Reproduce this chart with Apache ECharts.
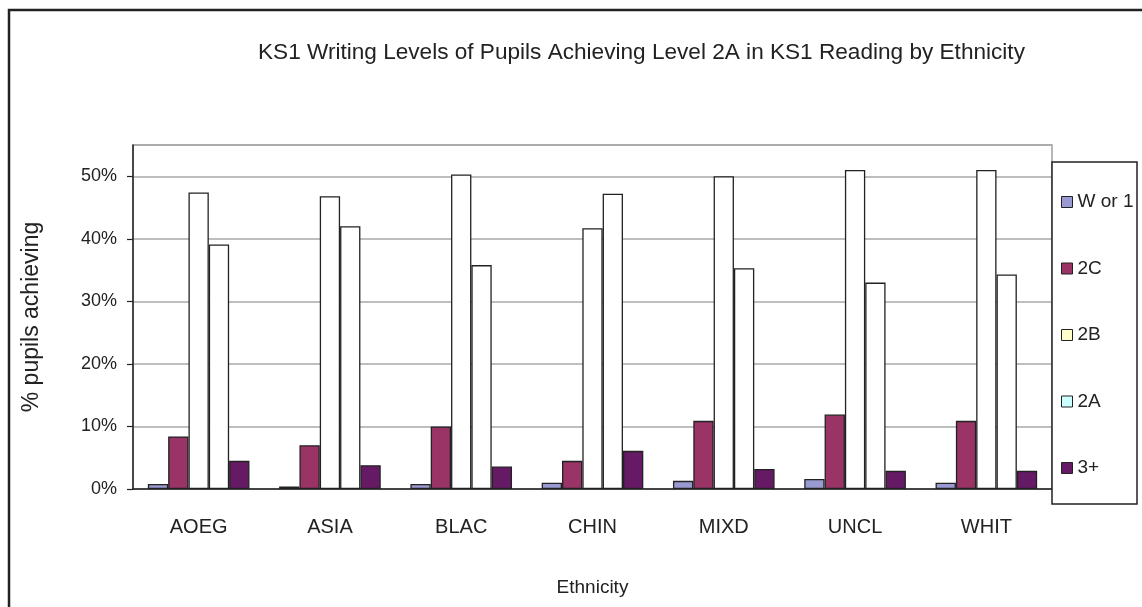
<!DOCTYPE html>
<html>
<head>
<meta charset="utf-8">
<script src="https://cdn.jsdelivr.net/npm/echarts@6/dist/echarts.min.js"></script>
<style>
  html, body { margin: 0; padding: 0; background: #fff; }
  #chart { width: 1142px; height: 607px; }
</style>
</head>
<body>
<div id="chart"></div>
<script>
// data (percent of pupils)
const ethnicities = ['AOEG', 'ASIA', 'BLAC', 'CHIN', 'MIXD', 'UNCL', 'WHIT']
const levels = ['W or 1', '2C', '2B', '2A', '3+']
const wOr1 = [0.8, 0.4, 0.8, 1.0, 1.3, 1.6, 1.0]
const l2C = [8.4, 7.0, 10.0, 4.5, 10.9, 11.9, 10.9]
const l2B = [47.4, 46.8, 50.3, 41.7, 50.0, 51.0, 51.0]
const l2A = [39.1, 42.0, 35.8, 47.2, 35.3, 33.0, 34.3]
const l3plus = [4.5, 3.8, 3.6, 6.1, 3.2, 2.9, 2.9]
const yTicks = [0, 10, 20, 30, 40, 50]

const seriesValues = [wOr1, l2C, l2B, l2A, l3plus]
const barColors = ['#9a9ad2', '#9a3366', '#ffffff', '#ffffff', '#661a66']
const legendColors = ['#9a9ad2', '#9a3366', '#ffffcc', '#ccffff', '#661a66']

const font = '"Liberation Sans", Arial, sans-serif'

const chart = echarts.init(document.getElementById('chart'))

chart.setOption({
    animation: false,
    backgroundColor: '#fff',
    title: {
        text: 'KS1 Writing Levels of Pupils Achieving Level 2A in KS1 Reading by Ethnicity',
        left: 253,
        top: 36,
        textStyle: { fontFamily: font, fontSize: 22.6, fontWeight: 'normal', color: '#222' }
    },
    graphic: [
        {
            type: 'rect', z: -10, silent: true,
            shape: { x: 9, y: 10, width: 1300, height: 800 },
            style: { fill: 'none', stroke: '#222', lineWidth: 2.5 }
        },
        {
            type: 'rect', z: 1, silent: true,
            shape: { x: 1052, y: 162, width: 85, height: 342 },
            style: { fill: '#fff', stroke: '#222', lineWidth: 1.5 }
        }
    ],
    legend: {
        orient: 'vertical',
        left: 1061,
        top: 190,
        padding: 0,
        itemWidth: 11,
        itemHeight: 11,
        itemGap: 42.5,
        z: 5,
        textStyle: { fontFamily: font, fontSize: 19, lineHeight: 24, color: '#222' },
        data: levels.map((name, i) => ({
            name: name,
            icon: 'rect',
            itemStyle: { color: legendColors[i], borderColor: '#222', borderWidth: 1 }
        }))
    },
    grid: {
        left: 133,
        top: 145,
        right: 90,
        bottom: 118,
        show: true,
        borderColor: '#a0a0a0',
        borderWidth: 1.5
    },
    xAxis: {
        type: 'category',
        data: ethnicities,
        name: 'Ethnicity',
        nameLocation: 'middle',
        nameGap: 89,
        nameTextStyle: { fontFamily: font, fontSize: 19, color: '#222' },
        axisLine: { lineStyle: { color: '#222', width: 1.5 } },
        axisTick: { length: 7, lineStyle: { color: '#222', width: 1.2 } },
        axisLabel: { fontFamily: font, fontSize: 20, color: '#222', margin: 28 }
    },
    yAxis: {
        type: 'value',
        min: 0,
        max: 55,
        interval: 10,
        name: '% pupils achieving',
        nameLocation: 'middle',
        nameGap: 90,
        nameTextStyle: { fontFamily: font, fontSize: 23, color: '#222' },
        axisLine: { show: true, lineStyle: { color: '#222', width: 1.5 } },
        axisTick: { show: true, length: 6, lineStyle: { color: '#222', width: 1.2 } },
        axisLabel: {
            fontFamily: font, fontSize: 18, color: '#222', margin: 16,
            showMaxLabel: false,
            formatter: v => (yTicks.includes(v) ? v + '%' : '')
        },
        splitLine: { lineStyle: { color: '#a8a8a8', width: 1.5 } }
    },
    series: levels.map((name, i) => ({
        name: name,
        type: 'bar',
        data: seriesValues[i],
        barGap: '0%',
        barCategoryGap: '22.6%',
        itemStyle: { color: barColors[i], borderColor: '#222', borderWidth: 1.3 }
    }))
})
</script>
</body>
</html>
